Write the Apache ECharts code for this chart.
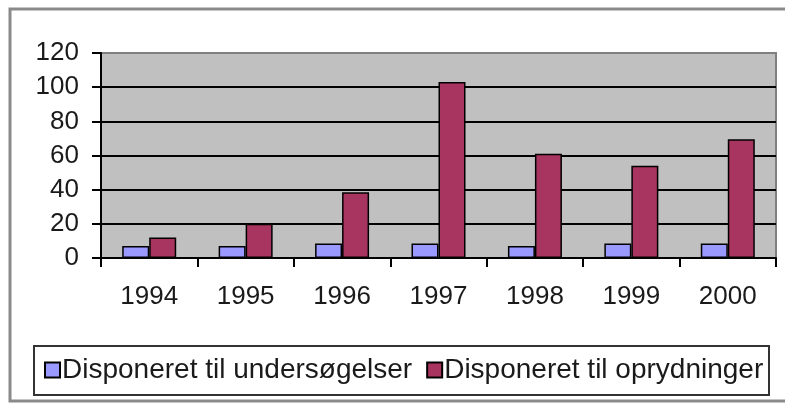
<!DOCTYPE html>
<html>
<head>
<meta charset="utf-8">
<script src="https://cdn.jsdelivr.net/npm/echarts@6/dist/echarts.min.js"></script>
<style>
  html, body { margin: 0; padding: 0; background: #fff; }
  #chart { width: 785px; height: 403px; }
</style>
</head>
<body>
<div id="chart"></div>
<script>
// år på x-aksen
const years = ['1994', '1995', '1996', '1997', '1998', '1999', '2000']
// serier
const undersoegelser = [7, 7, 8.5, 8.5, 7, 8.5, 8.5]
const oprydninger = [12, 20, 38.5, 103, 61, 54, 69.5]
const seriesNames = ['Disponeret til undersøgelser', 'Disponeret til oprydninger']

const font = 'Liberation Sans, Arial, sans-serif'
const chart = echarts.init(document.getElementById('chart'))

chart.setOption({
  animation: false,
  backgroundColor: '#fff',
  graphic: [
    // ydre ramme
    { type: 'rect', shape: { x: 10, y: 9, width: 800, height: 392 },
      style: { fill: 'none', stroke: '#8a8a8a', lineWidth: 3 }, z: 0 },
    // legend-boks
    { type: 'rect', shape: { x: 34, y: 346, width: 735, height: 49 },
      style: { fill: '#fff', stroke: '#333', lineWidth: 2 }, z: 1 }
  ],
  grid: {
    left: 101, right: 9, top: 53, bottom: 145,
    show: true, backgroundColor: '#c0c0c0',
    borderColor: '#808080', borderWidth: 2
  },
  legend: {
    data: seriesNames,
    left: 44, top: 356, padding: 0,
    itemWidth: 15, itemHeight: 15, itemGap: 14,
    icon: 'rect',
    textStyle: { fontFamily: font, fontSize: 28, color: '#1a1a1a', padding: [0, 0, 0, -3] },
    z: 5
  },
  xAxis: {
    type: 'category',
    data: years,
    axisLine: { lineStyle: { color: '#000', width: 2 } },
    axisTick: { show: true, length: 9, lineStyle: { color: '#000', width: 2 } },
    axisLabel: { fontFamily: font, fontSize: 26, color: '#1a1a1a', margin: 26 }
  },
  yAxis: {
    type: 'value',
    min: 0, max: 120, interval: 20,
    axisLine: { show: true, lineStyle: { color: '#000', width: 2 } },
    axisTick: { show: true, length: 9, lineStyle: { color: '#000', width: 2 } },
    axisLabel: { fontFamily: font, fontSize: 26, color: '#1a1a1a', margin: 22 },
    splitLine: { lineStyle: { color: ['#000', '#000', '#000', '#000', '#000', '#000', '#808080'], width: 2 } }
  },
  series: [
    {
      name: seriesNames[0],
      type: 'bar',
      data: undersoegelser,
      barWidth: 27,
      barGap: '0%',
      itemStyle: { color: '#9999ff', borderColor: '#000', borderWidth: 1.5 }
    },
    {
      name: seriesNames[1],
      type: 'bar',
      data: oprydninger,
      barWidth: 27,
      barGap: '0%',
      itemStyle: { color: '#a8355f', borderColor: '#000', borderWidth: 1.5 }
    }
  ]
})
</script>
</body>
</html>
